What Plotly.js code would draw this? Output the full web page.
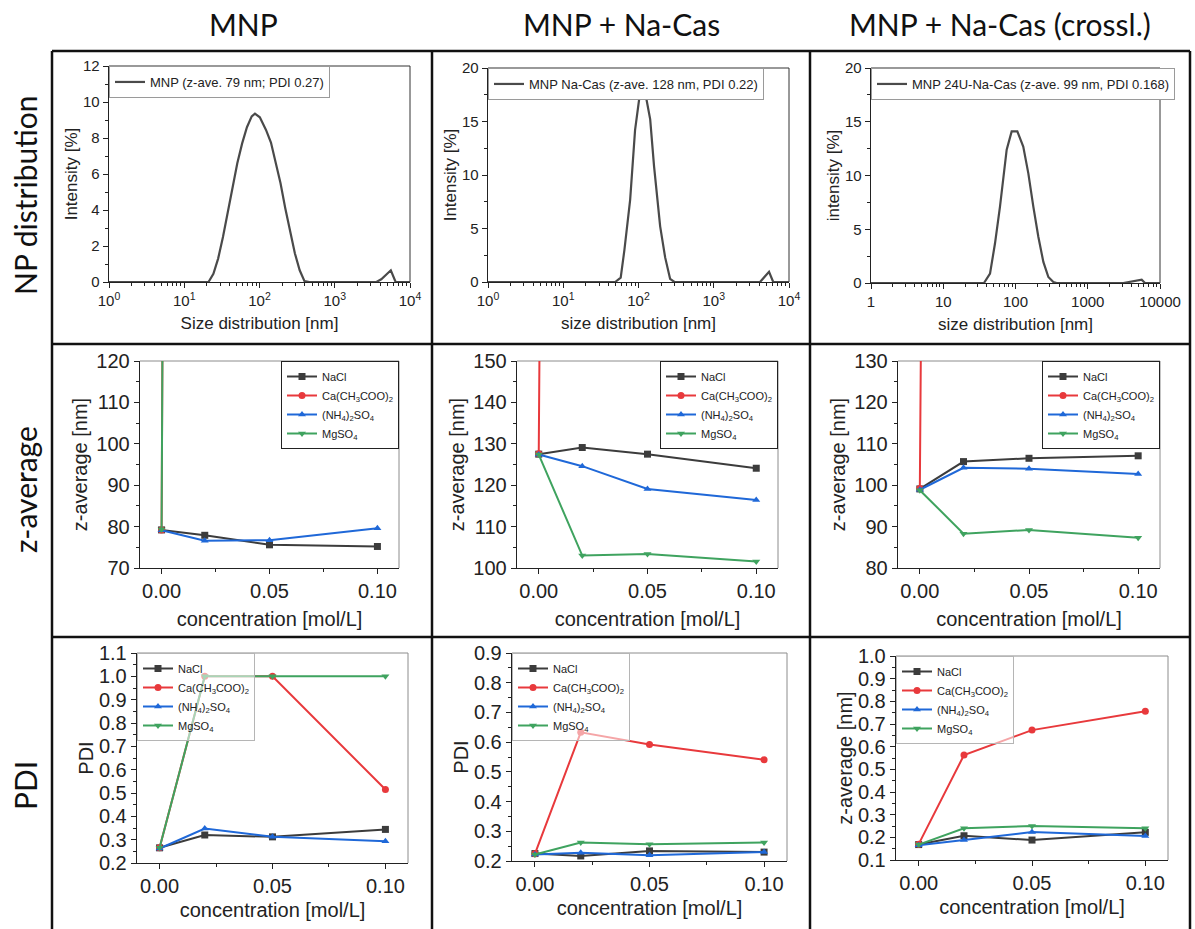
<!DOCTYPE html>
<html>
<head>
<meta charset="utf-8">
<script src="https://cdn.plot.ly/plotly-3.0.1.min.js"></script>
<style>html,body{margin:0;padding:0;background:#fff;}#chart{width:1195px;height:929px;}</style>
</head>
<body>
<div id="chart"></div>
<script>
// ---------- data ----------
const columnHeaders = ['MNP', 'MNP + Na-Cas', 'MNP + Na-Cas (crossl.)'];
const rowHeaders = ['NP distribution', 'z-average', 'PDI'];

const distLegend = ['MNP (z-ave. 79 nm; PDI 0.27)', 'MNP Na-Cas (z-ave. 128 nm, PDI 0.22)', 'MNP 24U-Na-Cas (z-ave. 99 nm, PDI 0.168)'];

const mnpSize = [1, 21.0, 24.4, 28.2, 32.7, 37.8, 43.8, 50.7, 58.8, 68.1, 78.8, 87, 101, 122, 142, 164, 190, 220, 255, 295, 342, 396, 459, 3580, 4150, 4800, 5560, 6440, 10000];
const mnpIntensity = [0, 0, 0.45, 1.3, 2.5, 3.9, 5.3, 6.6, 7.7, 8.6, 9.2, 9.35, 9.15, 8.45, 7.75, 6.7, 5.5, 4.1, 2.8, 1.6, 0.65, 0.05, 0, 0, 0.15, 0.4, 0.65, 0, 0];

const nacasSize = [1, 49, 58, 65, 77.5, 90, 103, 122, 143, 161, 194, 226, 263, 300, 4120, 5430, 6170, 10000];
const nacasIntensity = [0, 0, 0.4, 3.0, 7.7, 14.2, 17.3, 17.8, 15.2, 10.8, 5.2, 2.3, 0.3, 0, 0, 0.95, 0, 0];

const crosslSize = [1, 36.6, 44.4, 52, 61, 75.5, 88.5, 106, 128, 150.5, 176.5, 207, 243, 285, 334, 371, 3100, 4270, 5580, 6200, 10000];
const crosslIntensity = [0, 0, 0.87, 3.67, 7.1, 12.4, 14.1, 14.1, 12.7, 10.2, 7.1, 4.3, 1.96, 0.56, 0.1, 0, 0, 0.2, 0.3, 0, 0];

const concentration = [0, 0.02, 0.05, 0.1];
const saltNames = ['NaCl', 'Ca(CH<sub>3</sub>COO)<sub>2</sub>', '(NH<sub>4</sub>)<sub>2</sub>SO<sub>4</sub>', 'MgSO<sub>4</sub>'];

// z-average [nm]
const zMnpNaCl = [79.2, 77.9, 75.6, 75.2];
const zMnpCa   = [79.2, 2300, 1900, 1500];
const zMnpNH4  = [79.1, 76.6, 76.7, 79.6];
const zMnpMg   = [79.3, 2200, 2600, 2400];

const zNacasNaCl = [127.5, 129.1, 127.5, 124.1];
const zNacasCa   = [127.6, 1600, 1400, 1200];
const zNacasNH4  = [127.4, 124.6, 119.1, 116.4];
const zNacasMg   = [127.4, 103.0, 103.4, 101.6];

const zCrosslNaCl = [99.1, 105.7, 106.5, 107.1];
const zCrosslCa   = [99.2, 1500, 1700, 1900];
const zCrosslNH4  = [98.9, 104.2, 104.0, 102.7];
const zCrosslMg   = [98.8, 88.3, 89.2, 87.3];

// PDI
const pMnpNaCl = [0.265, 0.32, 0.312, 0.344];
const pMnpCa   = [0.265, 1.0, 1.0, 0.515];
const pMnpNH4  = [0.262, 0.348, 0.313, 0.293];
const pMnpMg   = [0.265, 1.0, 1.0, 1.0];

const pNacasNaCl = [0.225, 0.217, 0.234, 0.230];
const pNacasCa   = [0.224, 0.633, 0.592, 0.541];
const pNacasNH4  = [0.222, 0.228, 0.219, 0.230];
const pNacasMg   = [0.222, 0.262, 0.256, 0.262];

const pCrosslNaCl = [0.168, 0.207, 0.188, 0.222];
const pCrosslCa   = [0.170, 0.563, 0.673, 0.756];
const pCrosslNH4  = [0.165, 0.188, 0.223, 0.206];
const pCrosslMg   = [0.168, 0.240, 0.250, 0.240];

// ---------- styling / layout ----------
const W = 1195, H = 929;
const FONT = 'Liberation Sans';
const saltColors = ['#3c3c3c', '#e8393c', '#1f68d8', '#3fa35f'];
const saltSymbols = ['square', 'circle', 'triangle-up', 'triangle-down'];

// plot boxes in pixels [left, right, top, bottom]
const boxes = [
  [109, 410, 66, 282], [488, 789, 68, 282], [871, 1160, 68, 283],
  [140, 399, 361, 568], [517, 778, 361, 568], [898, 1160, 361, 568],
  [137, 408, 653, 863], [512, 787, 653, 861], [896, 1168, 656, 860]
];

const traces = [];
const layout = {
  width: W, height: H,
  margin: {l: 0, r: 0, t: 0, b: 0},
  paper_bgcolor: '#fff', plot_bgcolor: '#fff',
  font: {family: FONT, color: '#222'},
  showlegend: true,
  shapes: [], annotations: []
};

function dom(b) {
  return {x: [b[0] / W, b[1] / W], y: [1 - b[3] / H, 1 - b[2] / H]};
}

function minorLogVals() {
  const v = [];
  for (let p = 0; p < 4; p++) for (let d = 2; d <= 9; d++) v.push(d * Math.pow(10, p));
  return v;
}

for (let i = 0; i < 9; i++) {
  const n = i + 1;
  const xa = 'xaxis' + (n === 1 ? '' : n), ya = 'yaxis' + (n === 1 ? '' : n);
  const xr = 'x' + (n === 1 ? '' : n), yr = 'y' + (n === 1 ? '' : n);
  const d = dom(boxes[i]);
  const row = Math.floor(i / 3);
  const tickSize = row === 0 ? 15 : 20;
  const titleSize = row === 0 ? 17 : 20;
  const common = {
    showline: true, linecolor: '#222', linewidth: 1.3, mirror: false,
    ticks: 'outside', ticklen: 5, tickwidth: 1, tickcolor: '#222',
    showgrid: false, zeroline: false,
    tickfont: {family: FONT, size: tickSize, color: '#222'}
  };
  const xaxis = Object.assign({}, common, {domain: d.x, anchor: yr});
  const yaxis = Object.assign({}, common, {domain: d.y, anchor: xr});
  if (row === 0) {
    xaxis.type = 'log';
    xaxis.range = [0, 4];
    xaxis.tickmode = 'array';
    xaxis.tickvals = [1, 10, 100, 1000, 10000];
    xaxis.ticktext = i < 2 ? ['10<sup>0</sup>', '10<sup>1</sup>', '10<sup>2</sup>', '10<sup>3</sup>', '10<sup>4</sup>'] : ['1', '10', '100', '1000', '10000'];
    xaxis.minor = {tickmode: 'array', tickvals: minorLogVals(), ticks: 'outside', ticklen: 3, tickcolor: '#222'};
    xaxis.title = {text: i < 1 ? 'Size distribution [nm]' : 'size distribution [nm]', font: {family: FONT, size: titleSize, color: '#222'}, standoff: 8};
    yaxis.title = {text: i < 2 ? 'Intensity [%]' : 'intensity [%]', font: {family: FONT, size: titleSize, color: '#222'}, standoff: 1};
    if (i === 0) { yaxis.range = [0, 12]; yaxis.dtick = 2; yaxis.minor = {dtick: 1, ticks: 'outside', ticklen: 3, tickcolor: '#222'}; }
    else { yaxis.range = [0, 20]; yaxis.dtick = 5; yaxis.minor = {dtick: 2.5, ticks: 'outside', ticklen: 3, tickcolor: '#222'}; }
  } else {
    xaxis.range = [-0.01, 0.11];
    xaxis.tick0 = 0; xaxis.dtick = 0.05; xaxis.tickformat = '.2f';
    xaxis.minor = {dtick: 0.025, tick0: 0, ticks: 'outside', ticklen: 3, tickcolor: '#222'};
    xaxis.title = {text: 'concentration [mol/L]', font: {family: FONT, size: titleSize, color: '#222'}, standoff: row === 1 ? 10 : 6};
    if (row === 1) {
      const rngs = [[70, 120], [100, 150], [80, 130]];
      yaxis.range = rngs[i - 3]; yaxis.dtick = 10;
      yaxis.minor = {dtick: 5, ticks: 'outside', ticklen: 3, tickcolor: '#222'};
      yaxis.title = {text: 'z-average [nm]', font: {family: FONT, size: titleSize, color: '#222'}, standoff: 3};
    } else {
      const rngs = [[0.2, 1.1], [0.2, 0.9], [0.1, 1.0]];
      yaxis.range = rngs[i - 6]; yaxis.dtick = 0.1; yaxis.tickformat = '.1f';
      yaxis.minor = {dtick: 0.05, ticks: 'outside', ticklen: 3, tickcolor: '#222'};
      yaxis.title = {text: i === 8 ? 'z-average [nm]' : 'PDI', font: {family: FONT, size: titleSize, color: '#222'}, standoff: 0};
    }
  }
  layout[xa] = xaxis; layout[ya] = yaxis;
  // top/right frame
  layout.shapes.push({type: 'line', xref: xr + ' domain', yref: yr + ' domain', x0: 0, x1: 1, y0: 1, y1: 1, line: {color: row === 0 ? '#333' : '#8c8c8c', width: 1}, layer: 'below'});
  layout.shapes.push({type: 'line', xref: xr + ' domain', yref: yr + ' domain', x0: 1, x1: 1, y0: 0, y1: 1, line: {color: row === 0 ? '#333' : '#8c8c8c', width: 1}, layer: 'below'});
}

// distribution traces
const distX = [mnpSize, nacasSize, crosslSize];
const distY = [mnpIntensity, nacasIntensity, crosslIntensity];
for (let c = 0; c < 3; c++) {
  const n = c + 1;
  const lg = 'legend' + (n === 1 ? '' : n);
  traces.push({
    type: 'scatter', mode: 'lines', x: distX[c], y: distY[c], name: distLegend[c],
    xaxis: 'x' + (n === 1 ? '' : n), yaxis: 'y' + (n === 1 ? '' : n), legend: lg,
    line: {color: '#4a4a4a', width: 2.2}, hoverinfo: 'skip'
  });
  const b = boxes[c];
  layout[lg] = {
    x: b[0] / W, y: 1 - b[2] / H, xanchor: 'left', yanchor: 'top',
    bgcolor: '#fff', bordercolor: '#9a9a9a', borderwidth: 1,
    font: {family: FONT, size: 13, color: '#222'},
    itemwidth: 30, tracegroupgap: 0
  };
}

// salt traces
const zSets = [
  [zMnpNaCl, zMnpCa, zMnpNH4, zMnpMg],
  [zNacasNaCl, zNacasCa, zNacasNH4, zNacasMg],
  [zCrosslNaCl, zCrosslCa, zCrosslNH4, zCrosslMg]
];
const pSets = [
  [pMnpNaCl, pMnpCa, pMnpNH4, pMnpMg],
  [pNacasNaCl, pNacasCa, pNacasNH4, pNacasMg],
  [pCrosslNaCl, pCrosslCa, pCrosslNH4, pCrosslMg]
];
for (let r = 1; r <= 2; r++) {
  for (let c = 0; c < 3; c++) {
    const idx = r * 3 + c;
    const n = idx + 1;
    const lg = 'legend' + n;
    const sets = r === 1 ? zSets[c] : pSets[c];
    for (let s = 0; s < 4; s++) {
      traces.push({
        type: 'scatter', mode: 'lines+markers', x: concentration, y: sets[s], name: saltNames[s],
        xaxis: 'x' + n, yaxis: 'y' + n, legend: lg,
        line: {color: saltColors[s], width: 2},
        marker: {color: saltColors[s], symbol: saltSymbols[s], size: 7},
        hoverinfo: 'skip'
      });
    }
    const b = boxes[idx];
    if (r === 1) {
      layout[lg] = {
        x: b[1] / W, y: 1 - b[2] / H, xanchor: 'right', yanchor: 'top',
        bgcolor: '#fff', bordercolor: '#222', borderwidth: 1,
        font: {family: FONT, size: 11, color: '#222'}, itemwidth: 30
      };
    } else {
      layout[lg] = {
        x: b[0] / W, y: 1 - b[2] / H, xanchor: 'left', yanchor: 'top',
        bgcolor: 'rgba(255,255,255,0.55)', bordercolor: '#b5b5b5', borderwidth: 1,
        font: {family: FONT, size: 11, color: '#222'}, itemwidth: 30
      };
    }
  }
}

// table grid
const gridColor = '#111';
[52, 432, 810, 1190].forEach(x => layout.shapes.push({type: 'line', xref: 'paper', yref: 'paper', x0: x / W, x1: x / W, y0: 1 - 51 / H, y1: 0, line: {color: gridColor, width: 2.5}}));
[51, 344, 637].forEach(y => layout.shapes.push({type: 'line', xref: 'paper', yref: 'paper', x0: 52 / W, x1: 1190 / W, y0: 1 - y / H, y1: 1 - y / H, line: {color: gridColor, width: 2.5}}));

// headers
const HFONT = 'Lato';
const headerX = [243, 621, 1000];
columnHeaders.forEach((t, k) => layout.annotations.push({
  text: t, xref: 'paper', yref: 'paper', x: headerX[k] / W, y: 1 - 24 / H, xanchor: 'center', yanchor: 'middle',
  showarrow: false, font: {family: HFONT, size: 30, color: '#111'}
}));
const rowY = [196, 490, 786];
rowHeaders.forEach((t, k) => layout.annotations.push({
  text: t, xref: 'paper', yref: 'paper', x: 25 / W, y: 1 - rowY[k] / H, xanchor: 'center', yanchor: 'middle',
  textangle: -90, showarrow: false, font: {family: HFONT, size: 30, color: '#111'}
}));

Plotly.newPlot('chart', traces, layout, {displayModeBar: false, staticPlot: true});
</script>
</body>
</html>
